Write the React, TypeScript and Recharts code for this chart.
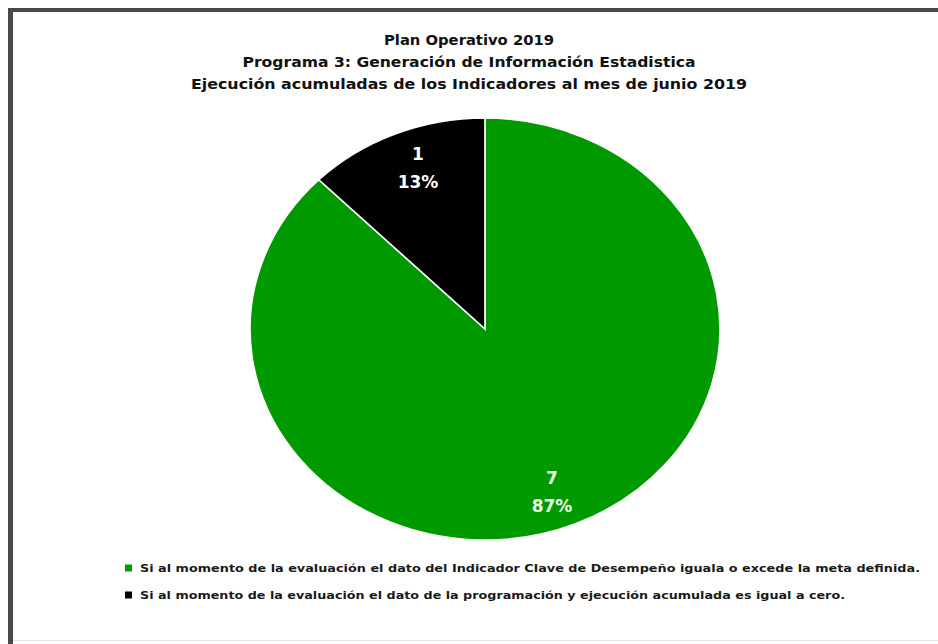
import React from 'react';
import { PieChart, Pie, Cell, Legend, Sector } from 'recharts';

const categories = [
  'Si al momento de la evaluación el dato del Indicador Clave de Desempeño iguala o excede la meta definida.',
  'Si al momento de la evaluación el dato de la programación y ejecución acumulada es igual a cero.',
];
const values = [7, 1];
const percentLabels = ['87%', '13%'];
const colors = ['#009a00', '#000000'];
const labelColors = ['#eaffe6', '#ffffff'];
const titleLines = [
  'Plan Operativo 2019',
  'Programa 3: Generación de Información Estadistica',
  'Ejecución acumuladas de los Indicadores al mes de junio 2019',
];
const titleWidths = [170, 453, 556];
const legendWidths = [780, 705];

const data = categories.map((name, i) => ({ name, value: values[i], pct: percentLabels[i] }));

const SX = 235 / 211;
const RADIAN = Math.PI / 180;
const FONT = '"DejaVu Sans", Verdana, sans-serif';

const StretchedSector = (props: any) => {
  const { cx } = props;
  return (
    <g transform={`translate(${cx},0) scale(${SX},1) translate(${-cx},0)`}>
      <Sector {...props} />
    </g>
  );
};

const renderLabel = (props: any) => {
  const { cx, cy, midAngle, outerRadius, index, value } = props;
  const r = outerRadius * 0.83;
  const x = cx + r * Math.cos(-midAngle * RADIAN);
  const y = cy + r * Math.sin(-midAngle * RADIAN);
  return (
    <text
      x={x}
      y={y}
      textAnchor="middle"
      fill={labelColors[index]}
      fontFamily={FONT}
      fontWeight="bold"
      fontSize={17}
    >
      <tspan x={x} y={y - 7}>{value}</tspan>
      <tspan x={x} y={y + 21}>{data[index].pct}</tspan>
    </text>
  );
};

const LegendContent = (props: any) => {
  const payload = (props.payload || []).slice();
  payload.sort((a: any, b: any) => categories.indexOf(a.value) - categories.indexOf(b.value));
  return (
    <svg width={938} height={60} style={{ display: 'block' }}>
      {payload.map((entry: any, i: number) => (
        <g key={i}>
          <rect x={125} y={9.5 + i * 27} width={7} height={7} fill={entry.color} />
          <text
            x={140}
            y={17 + i * 27}
            fontFamily={FONT}
            fontWeight="bold"
            fontSize={11}
            fill="#1a1a1a"
            textLength={legendWidths[i]}
            lengthAdjust="spacingAndGlyphs"
          >
            {entry.value}
          </text>
        </g>
      ))}
    </svg>
  );
};

export default function App() {
  return (
    <div
      style={{
        position: 'fixed',
        left: 0,
        top: 0,
        width: 938,
        height: 644,
        overflow: 'hidden',
        background: '#ffffff',
      }}
    >
      <div style={{ position: 'absolute', left: 8, top: 8, width: 930, height: 4, background: '#4a4a4a' }} />
      <div style={{ position: 'absolute', left: 8, top: 8, width: 5, height: 636, background: '#4a4a4a' }} />
      <div style={{ position: 'absolute', left: 13, top: 640, width: 925, height: 1, background: '#e2e2e2' }} />
      <svg
        width={938}
        height={110}
        style={{ position: 'absolute', left: 0, top: 0 }}
      >
        {titleLines.map((t, i) => (
          <text
            key={i}
            x={469}
            y={45 + i * 22}
            textAnchor="middle"
            fontFamily={FONT}
            fontWeight="bold"
            fontSize={14}
            fill="#111"
            textLength={titleWidths[i]}
            lengthAdjust="spacingAndGlyphs"
          >
            {t}
          </text>
        ))}
      </svg>
      <div style={{ position: 'absolute', left: 0, top: 0 }}>
        <PieChart width={938} height={644} margin={{ top: 0, right: 0, bottom: 0, left: 0 }}>
          <Pie
            data={data}
            dataKey="value"
            nameKey="name"
            cx={485}
            cy={329}
            outerRadius={211}
            startAngle={90}
            endAngle={-270}
            stroke="#ffffff"
            strokeWidth={1.5}
            labelLine={false}
            label={renderLabel}
            shape={StretchedSector}
            isAnimationActive={false}
          >
            {data.map((d, i) => (
              <Cell key={i} fill={colors[i]} />
            ))}
          </Pie>
          <Legend
            content={<LegendContent />}
            wrapperStyle={{ position: 'absolute', left: 0, top: 555, width: 938, height: 60 }}
          />
        </PieChart>
      </div>
    </div>
  );
}
